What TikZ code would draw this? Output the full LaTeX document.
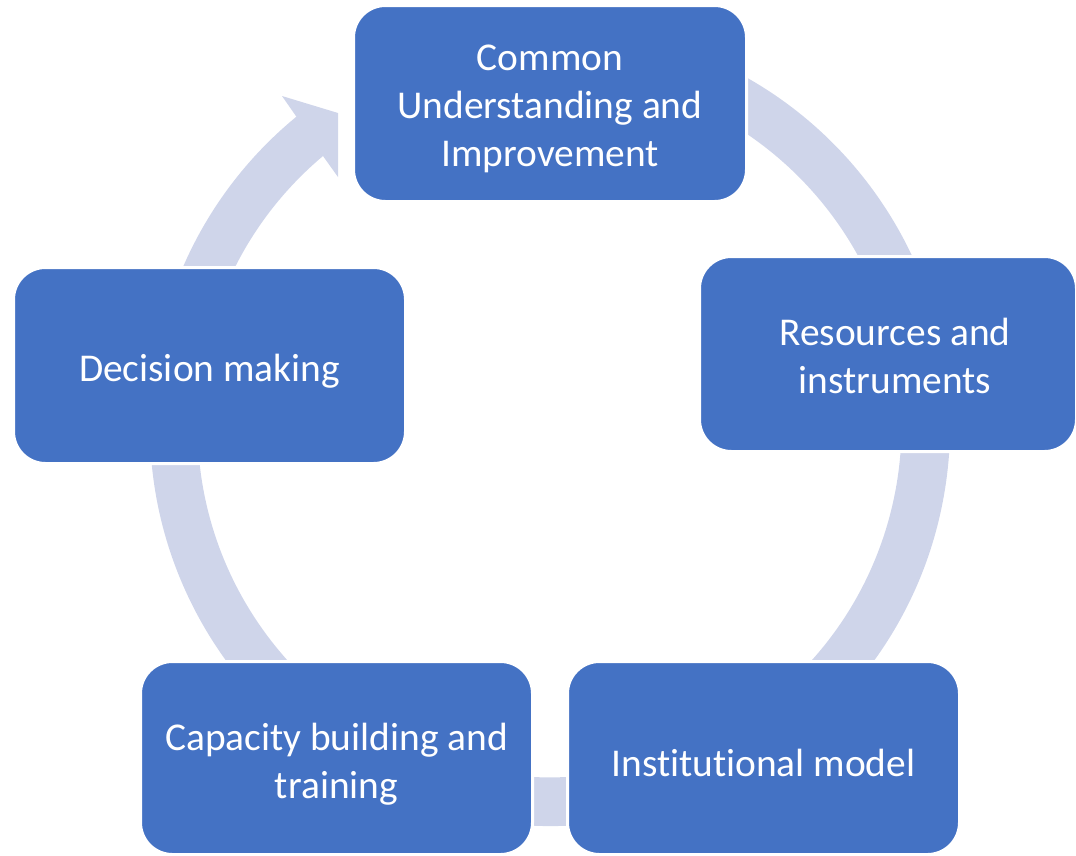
\documentclass[tikz,border=0pt]{standalone}
\usepackage{fontspec}
\setmainfont{Carlito}[Ligatures=NoCommon]
\definecolor{boxblue}{HTML}{4472C4}
\definecolor{ringc}{HTML}{CFD5EA}
\begin{document}
\begin{tikzpicture}[x=1pt,y=1pt,
  stage/.style={draw=white, line width=3pt, fill=boxblue, rounded corners=32pt,
    text=white, align=center, inner sep=0pt,
    font=\fontsize{39.4pt}{48pt}\selectfont},
  ring/.style={fill=ringc}]
\useasboundingbox (0,0) rectangle (1076,-855);
% circular arrow behind the stages
\fill[ring] (550,-426) ++(80:400) arc[start angle=80, end angle=-230.65, radius=400]
  -- (282,-96) -- (338,-113) -- (338,-177) -- (323,-156)
  arc[start angle=-229.94, end angle=80, radius=352] -- cycle;
% stages
\node[stage, minimum width=393pt, minimum height=196pt] (common) at (550,-103.5)
  {\rule{0pt}{36pt}Common\\Understanding and\\Improvement};
\node[stage, minimum width=377pt, minimum height=195pt] (resources) at (888,-354)
  {\rule{0pt}{31pt}\hspace*{14pt}Resources and\\\hspace*{14pt}instruments};
\node[stage, minimum width=392pt, minimum height=193pt] (institutional) at (763.5,-758)
  {\rule{0pt}{38pt}Institutional model};
\node[stage, minimum width=392pt, minimum height=193pt] (capacity) at (336.5,-758)
  {\rule{0pt}{40pt}Capacity building and\\training};
\node[stage, minimum width=392pt, minimum height=196pt] (decision) at (209.5,-365.5)
  {\rule{0pt}{39pt}Decision making};
\end{tikzpicture}
\end{document}
